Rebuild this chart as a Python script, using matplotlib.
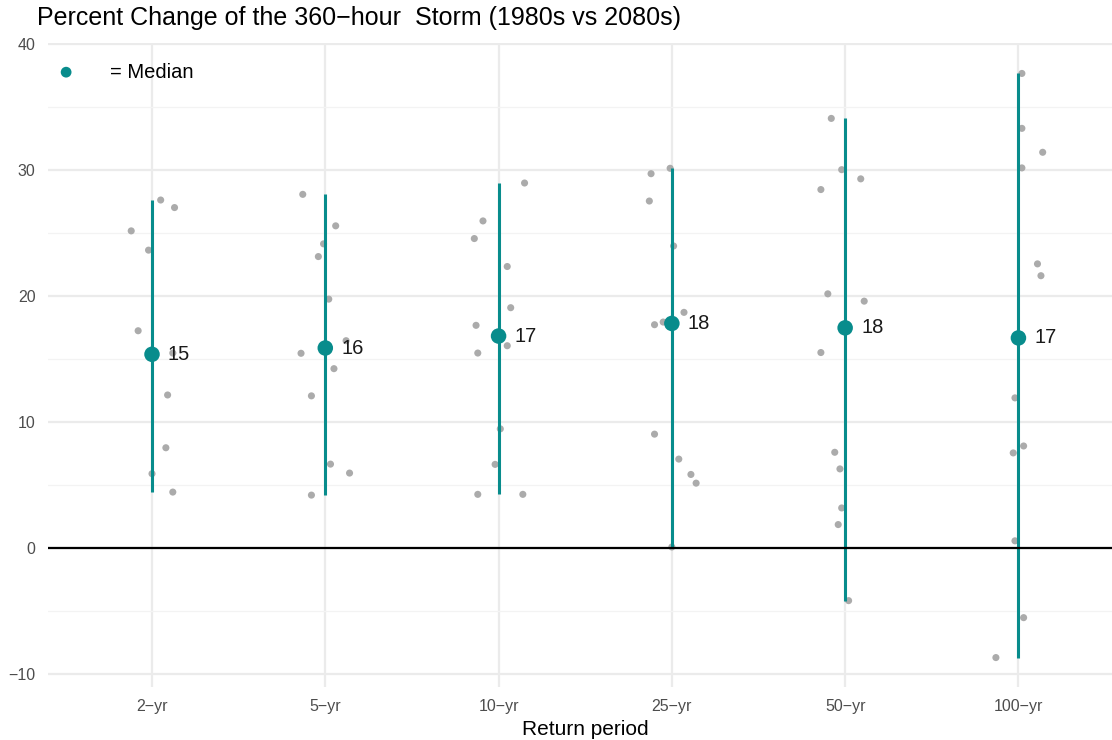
import matplotlib
matplotlib.use("Agg")
import matplotlib.pyplot as plt
import numpy as np

plt.rcParams["font.family"] = ["Liberation Sans", "DejaVu Sans"]

TEAL = "#088c8c"
GREY_PT = "#ababab"
GRID = "#ebebeb"
TICK = "#4d4d4d"

# ── data ──────────────────────────────────────────────────────
periods = ["2\u2212yr", "5\u2212yr", "10\u2212yr", "25\u2212yr", "50\u2212yr", "100\u2212yr"]

vals_2 = [27.65, 27.05, 25.2, 23.67, 17.27, 15.5, 12.17, 7.98, 5.92, 4.46]
jit_2 = [0.05, 0.13, -0.12, -0.02, -0.08, 0.12, 0.09, 0.08, 0.0, 0.12]

vals_5 = [28.1, 25.6, 24.17, 23.16, 19.78, 16.48, 15.48, 14.26, 12.1, 6.68, 5.97, 4.22]
jit_5 = [-0.13, 0.06, -0.01, -0.04, 0.02, 0.12, -0.14, 0.05, -0.08, 0.03, 0.14, -0.08]

vals_10 = [29.0, 25.99, 24.59, 22.37, 19.1, 17.7, 16.08, 15.5, 9.48, 6.66, 4.28, 4.28]
jit_10 = [0.15, -0.09, -0.14, 0.05, 0.07, -0.13, 0.05, -0.12, 0.01, -0.02, -0.12, 0.14]

vals_25 = [30.17, 29.74, 27.57, 24.0, 18.73, 17.96, 17.75, 9.06, 7.08, 5.86, 5.17, 0.1]
jit_25 = [-0.01, -0.12, -0.13, 0.01, 0.07, -0.05, -0.1, -0.1, 0.04, 0.11, 0.14, 0.0]

vals_50 = [34.13, 30.06, 29.33, 28.48, 20.2, 19.62, 15.54, 7.62, 6.3, 3.2, 1.88, -4.16]
jit_50 = [-0.08, -0.02, 0.09, -0.14, -0.1, 0.11, -0.14, -0.06, -0.03, -0.02, -0.04, 0.02]

vals_100 = [37.7, 33.34, 31.44, 30.2, 22.58, 21.64, 11.94, 8.12, 7.57, 0.59, -5.51, -8.68]
jit_100 = [0.02, 0.02, 0.14, 0.02, 0.11, 0.13, -0.02, 0.03, -0.03, -0.02, 0.03, -0.13]

group_vals = [vals_2, vals_5, vals_10, vals_25, vals_50, vals_100]
group_jit = [jit_2, jit_5, jit_10, jit_25, jit_50, jit_100]

medians = [15.4, 15.9, 16.85, 17.85, 17.5, 16.7]

# ── figure ───────────────────────────────────────────────────
fig = plt.figure(figsize=(11.12, 7.40), dpi=100)
ax = fig.add_axes([0.0432, 0.0719, 0.9568, 0.8697])

xs = np.arange(1, len(periods) + 1)

for x, v, j in zip(xs, group_vals, group_jit):
    ax.scatter(x + np.array(j), v, s=26, color=GREY_PT, edgecolors="none", zorder=3)
    ax.plot([x, x], [min(v), max(v)], color=TEAL, lw=2.2, zorder=4, solid_capstyle="butt")

ax.scatter(xs, medians, s=125, color=TEAL, edgecolors="none", zorder=5)
for x, m in zip(xs, medians):
    ax.text(x + 0.092, m, f"{round(m):d}", fontsize=14.5, color="#1a1a1a",
            ha="left", va="center", zorder=6)

ax.axhline(0, color="black", lw=1.6, zorder=4)

# legend-ish marker
ax.scatter([0.017], [0.955], s=60, color=TEAL, edgecolors="none",
           transform=ax.transAxes, zorder=6, clip_on=False)
ax.text(0.058, 0.955, "= Median", transform=ax.transAxes, fontsize=14.5,
        color="black", ha="left", va="center", zorder=6)

ax.set_xlim(0.4, 6.54)
ax.set_ylim(-11.0, 40.1)
ax.set_xticks(xs)
ax.set_xticklabels(periods)
ax.set_yticks([-10, 0, 10, 20, 30, 40])
ax.set_yticklabels(["\u221210", "0", "10", "20", "30", "40"])
ax.set_yticks([-5, 5, 15, 25, 35], minor=True)
ax.tick_params(axis="both", which="both", length=0, labelsize=11.5, colors=TICK)
ax.tick_params(axis="y", pad=9)
ax.tick_params(axis="x", pad=9)

ax.grid(True, which="major", color=GRID, lw=1.6, zorder=0)
ax.grid(True, which="minor", axis="y", color="#f3f3f3", lw=0.9, zorder=0)
ax.set_axisbelow(True)
for sp in ax.spines.values():
    sp.set_visible(False)

ax.set_xlabel("Return period", fontsize=15, color="black", labelpad=4)
ax.xaxis.set_label_coords(0.505, -0.052)

fig.text(0.033, 0.9757, "Percent Change of the 360\u2212hour  Storm (1980s vs 2080s)",
         fontsize=18, color="black", ha="left", va="center")

fig.savefig("out.png", dpi=100)
